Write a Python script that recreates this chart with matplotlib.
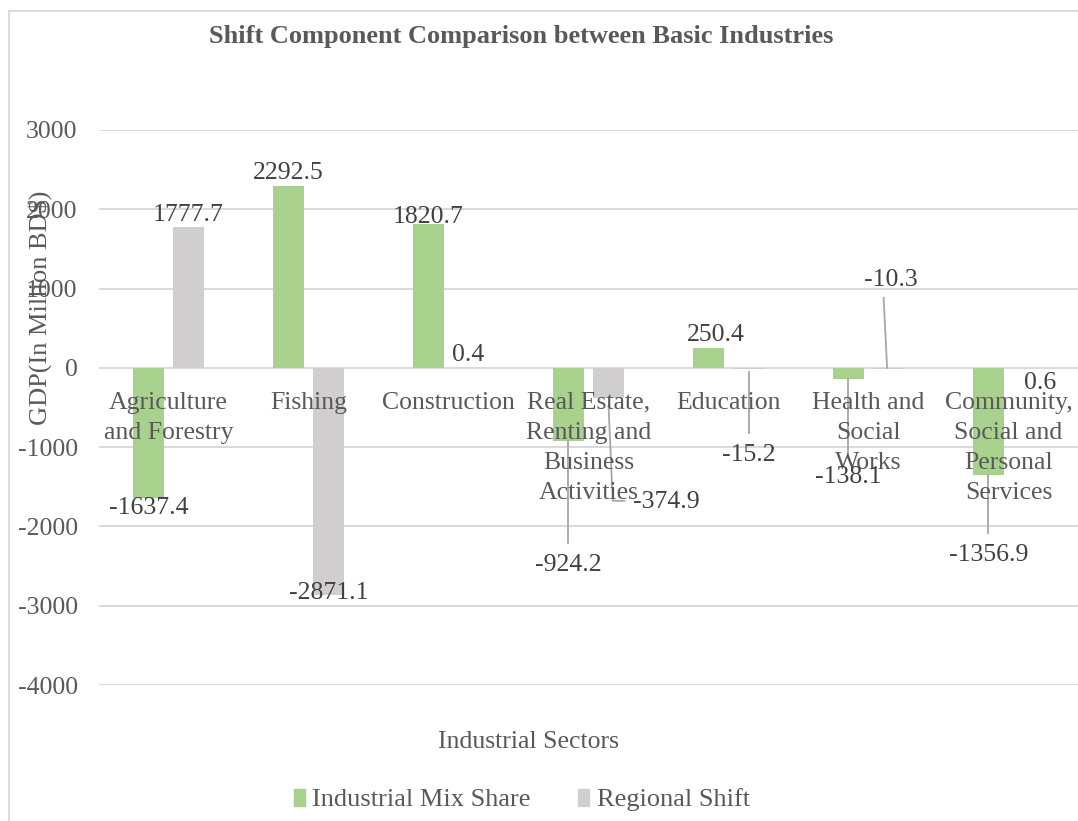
import numpy as np
import matplotlib
matplotlib.use('Agg')
import matplotlib.pyplot as plt
from matplotlib.patches import Patch
from matplotlib.lines import Line2D

plt.rcParams['font.family'] = ['Liberation Serif', 'DejaVu Serif']

# data
sectors = ['Agriculture\nand Forestry', 'Fishing', 'Construction',
           'Real Estate,\nRenting and\nBusiness\nActivities', 'Education',
           'Health and\nSocial\nWorks', 'Community,\nSocial and\nPersonal\nServices']
mix_share = [-1637.4, 2292.5, 1820.7, -924.2, 250.4, -138.1, -1356.9]
regional_shift = [1777.7, -2871.1, 0.4, -374.9, -15.2, -10.3, 0.6]
series_names = ['Industrial Mix Share', 'Regional Shift']
y_ticks = [3000, 2000, 1000, 0, -1000, -2000, -3000, -4000]

# label placement (x offset from bar centre in category units, y in data units)
mix_lbl_dx = [0, 0, 0, 0, 0.05, 0, 0]
mix_lbl_y = [-1766, 2459, 1904, -2484, 416, -1375, -2358]
rs_lbl_dx = [0, 0, 0, 0.41, 0, 0.02, 0.08]
rs_lbl_y = [1930, -2838, 164, -1690, -1097, 1110, -189]

green = '#A9D18E'
grey = '#D0CECE'
txt = '#595959'
lbl = '#404040'
lead = '#A6A6A6'

W, H = 1078, 821
fig = plt.figure(figsize=(W/100, H/100), dpi=100)
ax = fig.add_axes([98.5/W, 1-685/H, (1078.5-98.5)/W, 555/H])

x = np.arange(len(sectors))
bw = 0.221
off = 0.143
ax.bar(x-off, mix_share, width=bw, color=green, zorder=2)
ax.bar(x+off, regional_shift, width=bw, color=grey, zorder=2)

ax.set_xlim(-0.5, 6.5)
ax.set_ylim(-4000, 3000)
ax.set_yticks(y_ticks)
ax.set_yticklabels([str(t) for t in y_ticks], fontsize=18.5, color=txt)
ax.set_xticks([])
ax.tick_params(axis='y', length=0, pad=15)
ax.grid(axis='y', color='#D9D9D9', lw=1.4, zorder=0)
for s in ax.spines.values():
    s.set_visible(False)

# category labels sit at the zero line
for i, name in enumerate(sectors):
    ax.text(i, -300, name, ha='center', va='top', fontsize=18.5, color=txt,
            linespacing=1.47, zorder=4)

# data labels
for i in range(len(sectors)):
    ax.text(i-off+mix_lbl_dx[i], mix_lbl_y[i], f'{mix_share[i]:.1f}', ha='center', va='center',
            fontsize=18.5, color=lbl, zorder=5)
    ax.text(i+off+rs_lbl_dx[i], rs_lbl_y[i], f'{regional_shift[i]:.1f}', ha='center', va='center',
            fontsize=18.5, color=lbl, zorder=5)

# leader lines
leaders = [
    ([3-off, 3-off], [mix_share[3], -2207]),
    ([3+off, 3+off+0.03, 3+off+0.114], [-479, -1677, -1677]),
    ([4+off, 4+off], [-50, -820]),
    ([5-off, 5-off], [mix_share[5], -1097]),
    ([5+off-0.01, 5+off-0.035], [0, 883]),
    ([6-off, 6-off], [mix_share[6], -2081]),
]
for lx, ly in leaders:
    ax.plot(lx, ly, color=lead, lw=1.3, zorder=3)

fig.text(521/W, 1-37/H, 'Shift Component Comparison between Basic Industries',
         ha='center', va='center', fontsize=19, fontweight='bold', color=txt)
fig.text(40/W, 1-308/H, r'GDP(In Million BD\$)', rotation=90, ha='center', va='center',
         fontsize=19, color=txt)
fig.text(528/W, 1-742/H, 'Industrial Sectors', ha='center', va='center',
         fontsize=18.5, color=txt)

handles = [Patch(color=green), Patch(color=grey)]
fig.legend(handles, series_names, loc='center', bbox_to_anchor=(522/W, 1-800/H), ncol=2,
           frameon=False, fontsize=19, labelcolor=txt, handlelength=0.4,
           handleheight=0.6, handletextpad=0.3, columnspacing=1.8)

# chart area border
fig.add_artist(Line2D([9/W, 9/W], [0, 1-11/H], color='#D9D9D9', lw=1.3))
fig.add_artist(Line2D([9/W, 1], [1-11/H, 1-11/H], color='#D9D9D9', lw=1.3))

fig.savefig('out.png', dpi=100)
